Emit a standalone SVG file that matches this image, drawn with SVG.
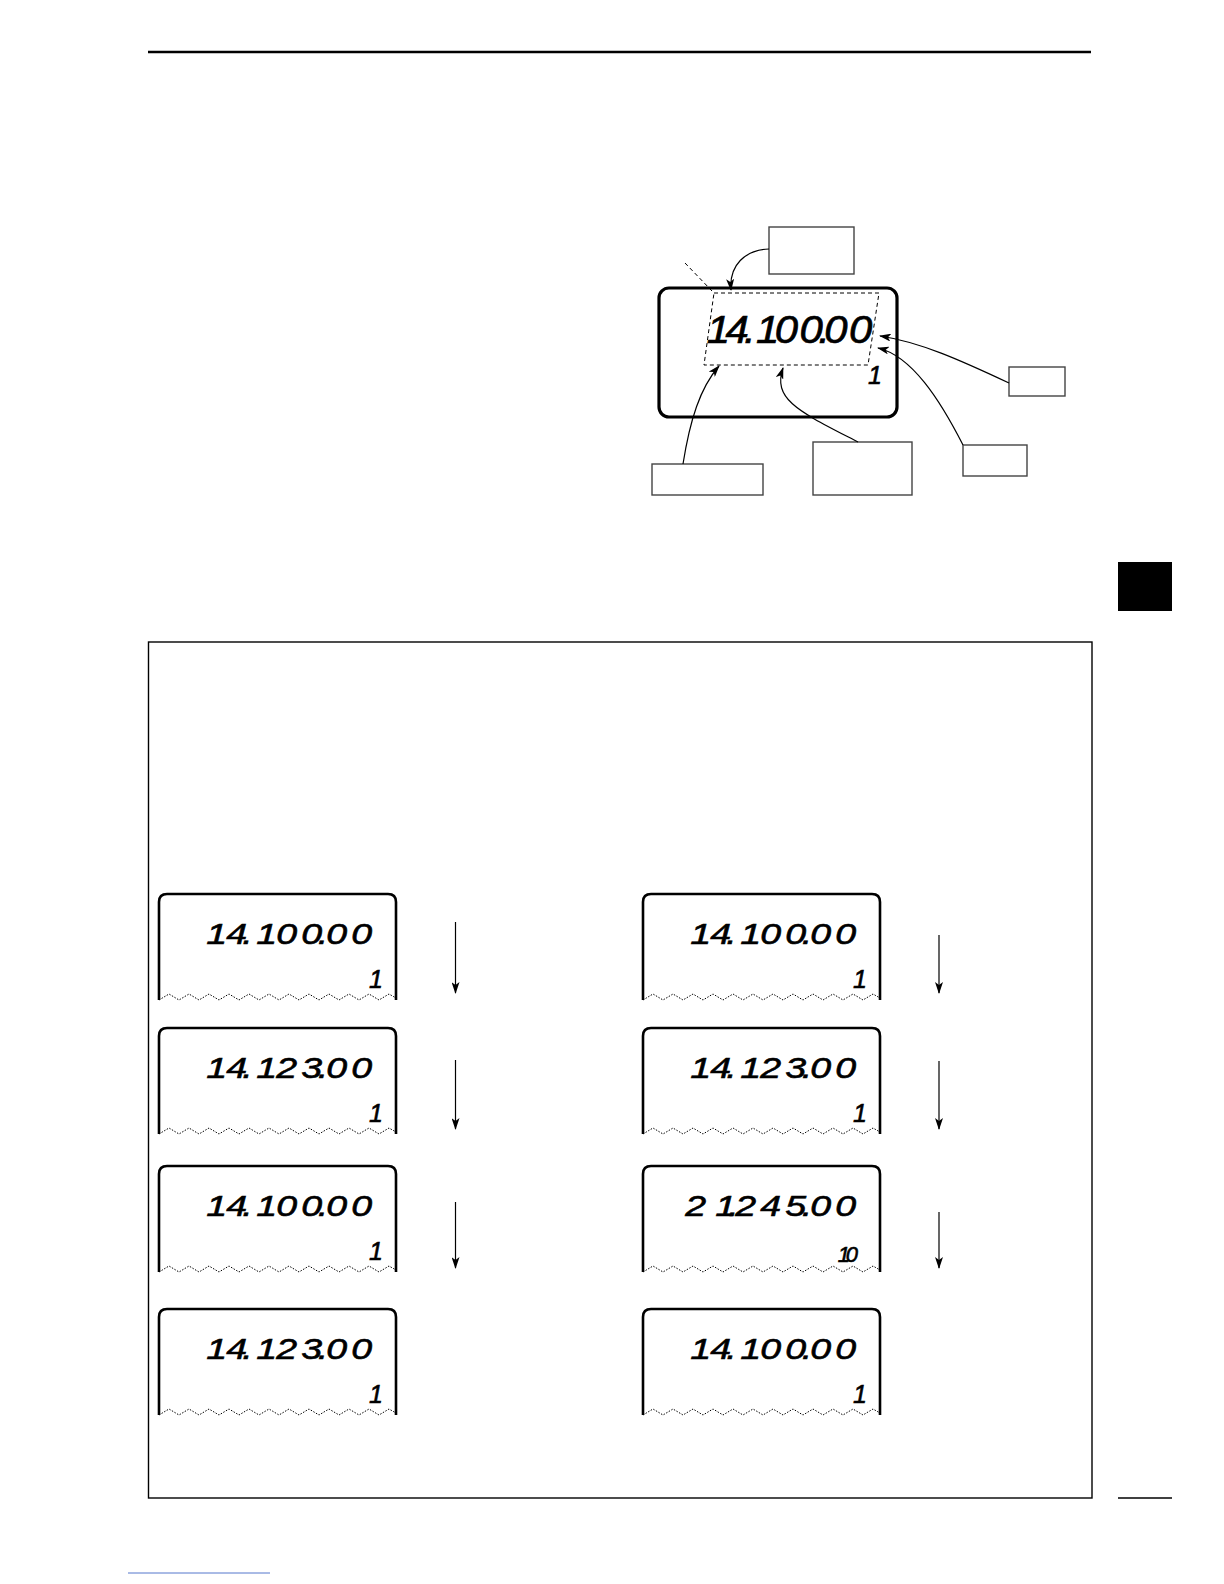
<svg xmlns="http://www.w3.org/2000/svg" xmlns:xlink="http://www.w3.org/1999/xlink" width="1224" height="1584" viewBox="0 0 1224 1584">
<style>
.lcd{fill:none;stroke:#000;stroke-width:2.6;stroke-linejoin:round}
.zig{fill:none;stroke:#000;stroke-width:1;stroke-dasharray:1.5 1.5}
.dig{font-family:"Liberation Sans",Arial,sans-serif;font-style:italic;font-size:30px;text-anchor:end;fill:#000;stroke:#000;stroke-width:0.6}
.sub{font-family:"Liberation Sans",Arial,sans-serif;font-style:italic;font-size:25px;text-anchor:end;fill:#000;stroke:#000;stroke-width:0.6}
.big{font-family:"Liberation Sans",Arial,sans-serif;font-style:italic;font-size:38px;text-anchor:end;fill:#000;stroke:#000;stroke-width:0.7}
.lbl{fill:#fff;stroke:#444;stroke-width:1.4}
.con{fill:none;stroke:#000;stroke-width:1.2}
.dash{fill:none;stroke:#000;stroke-width:1;stroke-dasharray:4 3}
</style>
<defs>
<marker id="ah" viewBox="0 0 12 8" refX="11" refY="4" markerWidth="12" markerHeight="8" markerUnits="userSpaceOnUse" orient="auto">
<path d="M0,0 L12,4 L0,8 L3,4 z" fill="#000"/>
</marker>
<g id="lcdFrame">
<path class="lcd" d="M0,106 V8 Q0,0 8,0 H229 Q237,0 237,8 V106"/>
<polyline class="zig" points="0,106 10,100 20,106 30,100 40,106 50,100 60,106 70,100 80,106 90,100 100,106 110,100 120,106 130,100 140,106 150,100 160,106 170,100 180,106 190,100 200,106 210,100 220,106 230,100 237,104"/>
</g>
</defs>
<rect width="1224" height="1584" fill="#fff"/>

<g id="page">
<line x1="148" y1="52" x2="1091" y2="52" stroke="#000" stroke-width="2.5"/>
<rect x="1118" y="562" width="54" height="49" fill="#000"/>
<rect x="148.5" y="642" width="943.5" height="856" fill="none" stroke="#000" stroke-width="1.4"/>
<line x1="1118" y1="1498" x2="1172" y2="1498" stroke="#000" stroke-width="1.4"/>
<line x1="128" y1="1573" x2="270" y2="1573" stroke="#5577cc" stroke-width="1"/>
</g>

<g id="main-display">
<rect x="659" y="288" width="238" height="129" rx="10" fill="none" stroke="#000" stroke-width="3.2"/>
<polygon class="dash" points="714,293 879,293 868,365 704,365"/>
<line class="dash" x1="685" y1="263" x2="712" y2="291"/>
<text class="big" transform="scale(1.1,1)" x="663.6 680.6 687 708.5 725.5 748.0 754.5 770.5 792.9" y="343">14.100.00</text>
<text class="sub" x="882" y="384">1</text>
</g>

<g id="label-top"><rect class="lbl" x="769" y="227" width="85" height="47"/></g>
<g id="label-right1"><rect class="lbl" x="1009" y="367" width="56" height="29"/></g>
<g id="label-right2"><rect class="lbl" x="963" y="445" width="64" height="31"/></g>
<g id="label-bottom-mid"><rect class="lbl" x="813" y="442" width="99" height="53"/></g>
<g id="label-bottom-left"><rect class="lbl" x="652" y="464" width="111" height="31"/></g>

<g id="connectors">
<path class="con" marker-end="url(#ah)" d="M769,249 C745,250 729,265 731,290"/>
<path class="con" marker-end="url(#ah)" d="M1009,383 C960,360 920,342 880,336"/>
<path class="con" marker-end="url(#ah)" d="M963,445 C940,400 912,356 878,348"/>
<path class="con" marker-end="url(#ah)" d="M858,442 C800,412 772,400 783,368"/>
<path class="con" marker-end="url(#ah)" d="M683,464 C690,420 700,388 719,366"/>
<line class="con" marker-end="url(#ah)" x1="455.5" y1="922" x2="455.5" y2="993"/>
<line class="con" marker-end="url(#ah)" x1="455.5" y1="1060" x2="455.5" y2="1129"/>
<line class="con" marker-end="url(#ah)" x1="455.5" y1="1202" x2="455.5" y2="1268"/>
<line class="con" marker-end="url(#ah)" x1="939" y1="935" x2="939" y2="993"/>
<line class="con" marker-end="url(#ah)" x1="939" y1="1061" x2="939" y2="1129"/>
<line class="con" marker-end="url(#ah)" x1="939" y1="1212" x2="939" y2="1268"/>
</g>

<g id="lcd-l1" transform="translate(159,894)">
<use xlink:href="#lcdFrame"/>
<text class="dig" transform="scale(1.25,1)" x="54.4 70.4 75 94.4 110.4 130.4 135.4 150.4 170.4" y="50">14.100.00</text>
<text class="sub" x="224" y="94">1</text>
</g>
<g id="lcd-l2" transform="translate(159,1028)">
<use xlink:href="#lcdFrame"/>
<text class="dig" transform="scale(1.25,1)" x="54.4 70.4 75 94.4 110.4 130.4 135.4 150.4 170.4" y="50">14.123.00</text>
<text class="sub" x="224" y="94">1</text>
</g>
<g id="lcd-l3" transform="translate(159,1166)">
<use xlink:href="#lcdFrame"/>
<text class="dig" transform="scale(1.25,1)" x="54.4 70.4 75 94.4 110.4 130.4 135.4 150.4 170.4" y="50">14.100.00</text>
<text class="sub" x="224" y="94">1</text>
</g>
<g id="lcd-l4" transform="translate(159,1309)">
<use xlink:href="#lcdFrame"/>
<text class="dig" transform="scale(1.25,1)" x="54.4 70.4 75 94.4 110.4 130.4 135.4 150.4 170.4" y="50">14.123.00</text>
<text class="sub" x="224" y="94">1</text>
</g>

<g id="lcd-r1" transform="translate(643,894)">
<use xlink:href="#lcdFrame"/>
<text class="dig" transform="scale(1.25,1)" x="54.4 70.4 75 94.4 110.4 130.4 135.4 150.4 170.4" y="50">14.100.00</text>
<text class="sub" x="224" y="94">1</text>
</g>
<g id="lcd-r2" transform="translate(643,1028)">
<use xlink:href="#lcdFrame"/>
<text class="dig" transform="scale(1.25,1)" x="54.4 70.4 75 94.4 110.4 130.4 135.4 150.4 170.4" y="50">14.123.00</text>
<text class="sub" x="224" y="94">1</text>
</g>
<g id="lcd-r3" transform="translate(643,1166)">
<use xlink:href="#lcdFrame"/>
<text class="dig" transform="scale(1.25,1)" x="50.4 74.4 76.5 90.4 110.4 130.4 135.4 150.4 170.4" y="50">21.245.00</text>
<text class="sub" style="font-size:22px" x="207 215" y="96">10</text>
</g>
<g id="lcd-r4" transform="translate(643,1309)">
<use xlink:href="#lcdFrame"/>
<text class="dig" transform="scale(1.25,1)" x="54.4 70.4 75 94.4 110.4 130.4 135.4 150.4 170.4" y="50">14.100.00</text>
<text class="sub" x="224" y="94">1</text>
</g>
</svg>
